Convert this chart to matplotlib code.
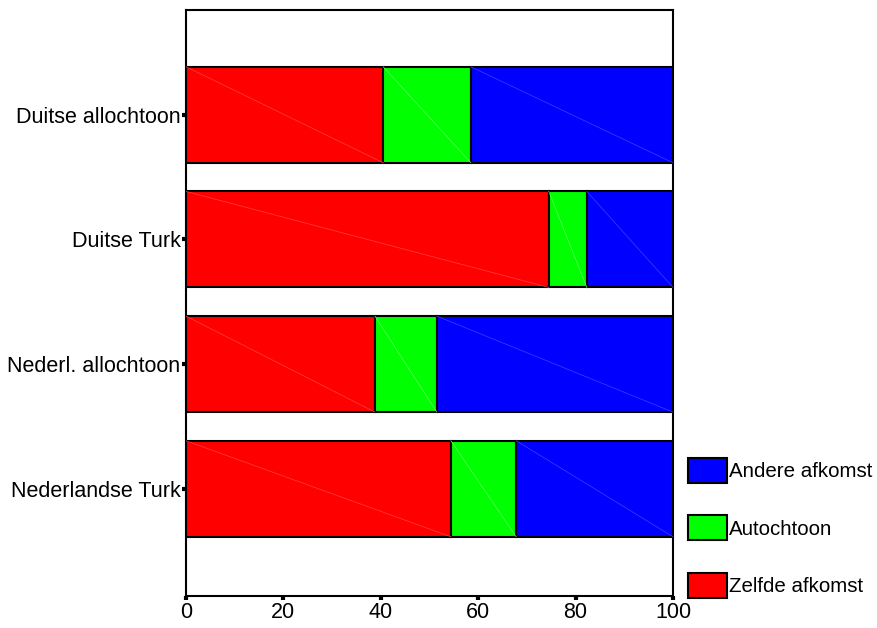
import numpy as np
import matplotlib.pyplot as plt
from matplotlib.patches import Patch

plt.rcParams['font.family'] = ['Liberation Sans', 'DejaVu Sans']

# data (percentages)
groups = ['Nederlandse Turk', 'Nederl. allochtoon', 'Duitse Turk', 'Duitse allochtoon']
zelfde = [54.4, 38.8, 74.5, 40.5]
autochtoon = [13.4, 12.7, 7.8, 18.0]
andere = [32.2, 48.5, 17.7, 41.5]

colRed = '#ff0000'
colGreen = '#00ff00'
colBlue = '#0000ff'

fig = plt.figure(figsize=(8.78, 6.28), dpi=100)
ax = fig.add_axes([0.2118, 0.051, 0.5547, 0.933])

index = np.arange(len(groups))
height = 0.77
zelfde = np.array(zelfde)
autochtoon = np.array(autochtoon)
andere = np.array(andere)

segs = [(zelfde, np.zeros(4), colRed, '#ff4040'),
        (autochtoon, zelfde, colGreen, '#60ff60'),
        (andere, zelfde + autochtoon, colBlue, '#4040ff')]
for w, left, c, lc in segs:
    ax.barh(index, w, left=left, height=height, color=c, edgecolor='black', linewidth=1.5)
    # faint diagonal lines seen inside each bar
    for i in range(len(index)):
        ax.plot([left[i], left[i] + w[i]], [index[i] + height / 2, index[i] - height / 2],
                color=lc, lw=0.5, zorder=3)

ax.set_xlim(0, 100)
ax.set_ylim(-0.86, 3.84)
ax.set_xticks([0, 20, 40, 60, 80, 100])
ax.set_yticks(index)
ax.set_yticklabels(groups)
ax.tick_params(axis='both', length=3, width=3, labelsize=15.5, pad=1, color='black')
for s in ax.spines.values():
    s.set_linewidth(1.5)

handles = [Patch(facecolor=colBlue, edgecolor='black', linewidth=1.5, label='Andere afkomst'),
           Patch(facecolor=colGreen, edgecolor='black', linewidth=1.5, label='Autochtoon'),
           Patch(facecolor=colRed, edgecolor='black', linewidth=1.5, label='Zelfde afkomst')]
fig.legend(handles=handles, loc='lower left', bbox_to_anchor=(688 / 878, 1 - 598 / 628),
           frameon=False, fontsize=14.8, handlelength=1.9, handleheight=1.5,
           handletextpad=0.08, labelspacing=1.58, borderpad=0, borderaxespad=0)

fig.savefig('out.png', dpi=100)
